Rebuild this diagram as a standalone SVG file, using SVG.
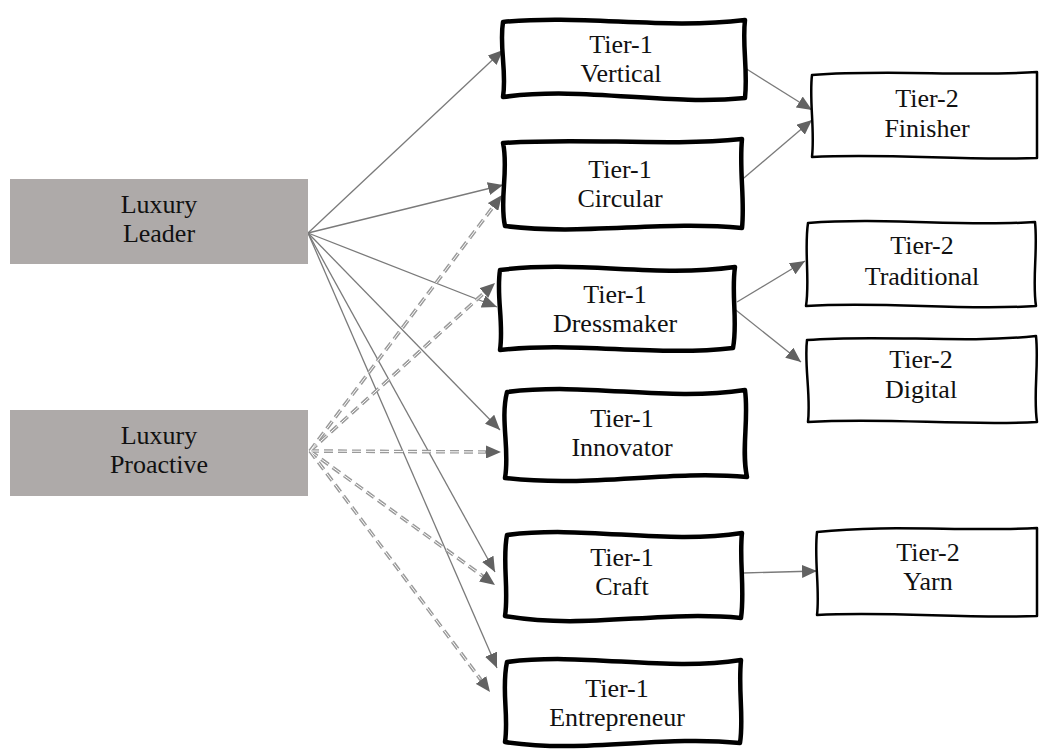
<svg xmlns="http://www.w3.org/2000/svg" width="1039" height="749" viewBox="0 0 1039 749">
<defs>
<style>
.src{fill:#aeaaa9;stroke:none}
.t1{fill:#fff;stroke:#000;stroke-width:4.5;stroke-linejoin:round}
.t2{fill:#fff;stroke:#000;stroke-width:2.5;stroke-linejoin:round}
.lbl{font-size:26px;fill:#111;text-anchor:middle}
.sol{stroke:#7a7a7a;stroke-width:1.3;fill:none}
.dsh{stroke:#9a9a9a;stroke-width:3.6;stroke-dasharray:9 5;fill:none}
.dshw{stroke:#fff;stroke-width:1;stroke-dasharray:9 5;fill:none}
</style>
<marker id="ah" markerUnits="userSpaceOnUse" markerWidth="16" markerHeight="13" refX="15" refY="6.5" orient="auto">
<path d="M0,0 L15,6.5 L0,13 z" fill="#626262"/>
</marker>
<marker id="ahd" markerUnits="userSpaceOnUse" markerWidth="16" markerHeight="13" refX="5" refY="6.5" orient="auto">
<path d="M0,0 L15,6.5 L0,13 z" fill="#626262"/>
</marker>
</defs>
<rect width="1039" height="749" fill="#fff"/>

<g id="connectors">
<line class="sol" x1="308" y1="233" x2="503" y2="50" marker-end="url(#ah)"/>
<line class="sol" x1="308" y1="233" x2="503" y2="185" marker-end="url(#ah)"/>
<line class="sol" x1="308" y1="233" x2="497" y2="307" marker-end="url(#ah)"/>
<line class="sol" x1="308" y1="233" x2="500" y2="430" marker-end="url(#ah)"/>
<line class="sol" x1="308" y1="233" x2="495" y2="572" marker-end="url(#ah)"/>
<line class="sol" x1="308" y1="233" x2="497" y2="668" marker-end="url(#ah)"/>

<line class="dsh" x1="310" y1="451" x2="496" y2="203" marker-end="url(#ahd)"/>
<line class="dsh" x1="310" y1="451" x2="487.6" y2="289.7" marker-end="url(#ahd)"/>
<line class="dsh" x1="310" y1="451" x2="491" y2="452" marker-end="url(#ahd)"/>
<line class="dsh" x1="310" y1="451" x2="486.9" y2="579.1" marker-end="url(#ahd)"/>
<line class="dsh" x1="310" y1="451" x2="484" y2="684" marker-end="url(#ahd)"/>
<line class="dshw" x1="310" y1="451" x2="492.4" y2="207.8"/>
<line class="dshw" x1="310" y1="451" x2="483.2" y2="293.8"/>
<line class="dshw" x1="310" y1="451" x2="485" y2="452"/>
<line class="dshw" x1="310" y1="451" x2="482" y2="575.6"/>
<line class="dshw" x1="310" y1="451" x2="480.4" y2="679.2"/>

<line class="sol" x1="745" y1="68" x2="812" y2="110" marker-end="url(#ah)"/>
<line class="sol" x1="738" y1="183" x2="812" y2="120" marker-end="url(#ah)"/>
<line class="sol" x1="737" y1="302" x2="805" y2="261" marker-end="url(#ah)"/>
<line class="sol" x1="732" y1="307" x2="801" y2="362" marker-end="url(#ah)"/>
<line class="sol" x1="743" y1="573" x2="817" y2="571" marker-end="url(#ah)"/>
</g>

<g font-family="'Liberation Serif', 'Times New Roman', 'DejaVu Serif', serif">
<g id="luxury-leader">
<rect class="src" x="10" y="179" width="298" height="85"/>
<text class="lbl" x="159" y="213">Luxury</text>
<text class="lbl" x="159" y="242">Leader</text>
</g>
<g id="luxury-proactive">
<rect class="src" x="10" y="410" width="298" height="86"/>
<text class="lbl" x="159" y="444">Luxury</text>
<text class="lbl" x="159" y="473">Proactive</text>
</g>

<g id="t1-vertical">
<path class="t1" d="M503,22 C583,14 663,30 745,20 C742,45 748,70 745,98 C665,106 585,86 503,97 C507,72 499,47 503,22 Z"/>
<text class="lbl" x="621" y="53">Tier-1</text>
<text class="lbl" x="621" y="82">Vertical</text>
</g>
<g id="t1-circular">
<path class="t1" d="M503,143 C583,137 663,147 742,139 C739,170 745,200 742,228 C662,220 582,236 505,226 C499,200 509,170 503,143 Z"/>
<text class="lbl" x="620" y="178">Tier-1</text>
<text class="lbl" x="620" y="207">Circular</text>
</g>
<g id="t1-dressmaker">
<path class="t1" d="M500,270 C580,260 655,278 735,267 C731,295 738,322 733,348 C655,357 575,341 500,350 C504,323 496,296 500,270 Z"/>
<text class="lbl" x="615" y="303">Tier-1</text>
<text class="lbl" x="615" y="332">Dressmaker</text>
</g>
<g id="t1-innovator">
<path class="t1" d="M507,392 C590,382 665,402 745,390 C749,420 741,450 747,477 C665,470 590,488 505,478 C510,450 500,420 507,392 Z"/>
<text class="lbl" x="622" y="427">Tier-1</text>
<text class="lbl" x="622" y="456">Innovator</text>
</g>
<g id="t1-craft">
<path class="t1" d="M507,535 C585,525 665,545 742,533 C739,560 745,590 741,618 C660,610 585,630 505,616 C509,590 502,560 507,535 Z"/>
<text class="lbl" x="622" y="566">Tier-1</text>
<text class="lbl" x="622" y="595">Craft</text>
</g>
<g id="t1-entrepreneur">
<path class="t1" d="M507,662 C585,652 665,672 741,660 C738,690 744,718 740,743 C660,735 585,754 505,742 C509,715 501,690 507,662 Z"/>
<text class="lbl" x="617" y="697">Tier-1</text>
<text class="lbl" x="617" y="726">Entrepreneur</text>
</g>

<g id="t2-finisher">
<path class="t2" d="M812,75 C890,69 965,77 1037,72 L1037,158 C965,161 890,153 812,157 C815,130 809,100 812,75 Z"/>
<text class="lbl" x="927" y="107">Tier-2</text>
<text class="lbl" x="927" y="137">Finisher</text>
</g>
<g id="t2-traditional">
<path class="t2" d="M808,223 C885,217 960,227 1035,222 C1038,250 1032,280 1036,306 C960,311 885,301 806,306 C810,280 804,250 808,223 Z"/>
<text class="lbl" x="922" y="254">Tier-2</text>
<text class="lbl" x="922" y="285">Traditional</text>
</g>
<g id="t2-digital">
<path class="t2" d="M807,340 C885,334 960,344 1036,336 C1039,365 1033,395 1037,422 C960,426 885,417 808,422 C811,395 804,365 807,340 Z"/>
<text class="lbl" x="921" y="368">Tier-2</text>
<text class="lbl" x="921" y="398">Digital</text>
</g>
<g id="t2-yarn">
<path class="t2" d="M817,532 C890,524 965,532 1037,528 L1037,616 C965,619 890,611 817,615 C820,590 814,560 817,532 Z"/>
<text class="lbl" x="928" y="561">Tier-2</text>
<text class="lbl" x="928" y="590">Yarn</text>
</g>
</g>
</svg>
